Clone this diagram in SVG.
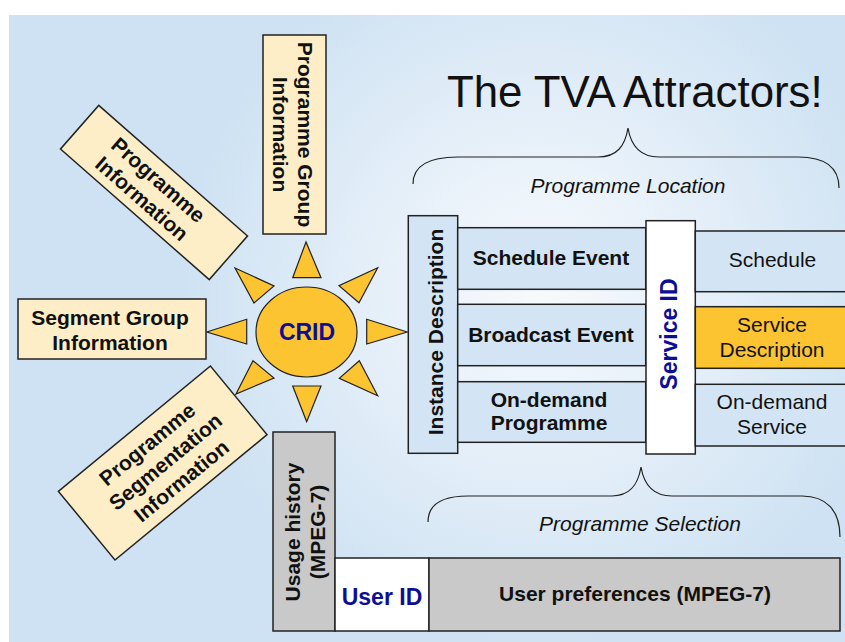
<svg xmlns="http://www.w3.org/2000/svg" width="845" height="642" viewBox="0 0 845 642">
<defs>
<radialGradient id="bg" gradientUnits="userSpaceOnUse" cx="540" cy="290" r="360">
<stop offset="0" stop-color="#f7fafd"/>
<stop offset="0.35" stop-color="#eaf2fa"/>
<stop offset="1" stop-color="#cee2f3"/>
</radialGradient>
<style>
.box{stroke:#222;stroke-width:1.5}
.cream{fill:#fdeec8}
.blue{fill:#d3e5f4}
.gray{fill:#c9c9c9}
.white{fill:#ffffff}
.orange{fill:#fdc431;stroke:#222;stroke-width:1.2}
.b{font-family:"Liberation Sans",Arial,sans-serif;font-weight:bold;font-size:21px;fill:#111;text-anchor:middle}
.r{font-family:"Liberation Sans",Arial,sans-serif;font-size:21px;fill:#111;text-anchor:middle}
.it{font-family:"Liberation Sans",Arial,sans-serif;font-style:italic;font-size:21px;fill:#111;text-anchor:middle}
.id{font-family:"Liberation Sans",Arial,sans-serif;font-weight:bold;font-size:23px;fill:#0d0d96;text-anchor:middle}
.brace{fill:none;stroke:#222;stroke-width:1.2}
</style>
</defs>
<rect x="0" y="0" width="845" height="642" fill="#ffffff"/>
<rect x="9" y="15" width="836" height="627" fill="url(#bg)"/>

<text x="447" y="107" font-family="Liberation Sans, Arial, sans-serif" font-size="43.8" fill="#111">The TVA Attractors!</text>

<g id="connectors">
<path class="brace" d="M413,184 C413,166 428,157 458,157 L598,157 C617,157 625,146 628,128 C631,146 640,157 659,157 L798,157 C826,157 839,168 839,188"/>
<path class="brace" d="M428,522 C428,505 440,496 468,496 L612,496 C630,496 638,485 641,467 C644,485 653,496 672,496 L802,496 C826,496 840,510 840,537"/>
</g>
<text class="it" x="628" y="193">Programme Location</text>
<text class="it" x="640" y="531">Programme Selection</text>

<g id="crid">
<polygon class="orange" points="306,242 292.7,277.7 321,277.7"/>
<polygon class="orange" points="235,268 274,286 254,303"/>
<polygon class="orange" points="377.7,267.7 339,285.7 359,302.7"/>
<polygon class="orange" points="206.7,332 246.7,319.3 246.7,344"/>
<polygon class="orange" points="407.3,332 366.7,319.3 366.7,344"/>
<polygon class="orange" points="236,394 253,360.7 274,378"/>
<polygon class="orange" points="377.7,395.7 359.3,360.7 339.3,378.3"/>
<polygon class="orange" points="306.7,421.7 292.7,386 321,386"/>
<ellipse class="orange" cx="306.5" cy="332" rx="50.5" ry="45"/>
<text class="id" x="307" y="340">CRID</text>
</g>

<g id="programme-group-information">
<rect class="box cream" x="263" y="35" width="63" height="199"/>
<text class="b" transform="translate(297.5,134.5) rotate(90)">Programme Group</text>
<text class="b" transform="translate(272.5,134.5) rotate(90)">Information</text>
</g>

<g id="programme-information" transform="translate(154,192.5) rotate(41.3)">
<rect class="box cream" x="-99" y="-29" width="198" height="58"/>
<text class="b" x="-5" y="-5">Programme</text>
<text class="b" x="-5" y="20">Information</text>
</g>

<g id="segment-group-information">
<rect class="box cream" x="18" y="299" width="188" height="60"/>
<text class="b" x="110" y="325">Segment Group</text>
<text class="b" x="110" y="350">Information</text>
</g>

<g id="programme-segmentation-information" transform="translate(162.7,463) rotate(-39.5)">
<rect class="box cream" x="-98.5" y="-44.5" width="197" height="89"/>
<text class="b" x="0" y="-17">Programme</text>
<text class="b" x="3" y="8">Segmentation</text>
<text class="b" x="3" y="33">Information</text>
</g>

<g id="instance-description">
<rect class="box blue" x="408.3" y="215.7" width="49.4" height="237.6"/>
<text class="b" transform="translate(443,332) rotate(-90)">Instance Description</text>
</g>

<g id="schedule-event">
<rect class="box blue" x="457.7" y="227.7" width="188" height="61.6"/>
<text class="b" x="551" y="265">Schedule Event</text>
</g>
<g id="broadcast-event">
<rect class="box blue" x="457.7" y="304.3" width="188" height="61.4"/>
<text class="b" x="551" y="342">Broadcast Event</text>
</g>
<g id="on-demand-programme">
<rect class="box blue" x="457.7" y="381.7" width="188" height="60.6"/>
<text class="b" x="549" y="407">On-demand</text>
<text class="b" x="549" y="430">Programme</text>
</g>

<g id="service-id">
<rect class="box white" x="646" y="220.7" width="49.3" height="233.3"/>
<text class="id" transform="translate(676.5,334) rotate(-90)">Service ID</text>
</g>

<g id="schedule">
<rect class="box blue" x="695.3" y="231" width="152" height="60.7"/>
<text class="r" x="772.5" y="266.5">Schedule</text>
</g>
<g id="service-description">
<rect class="box" fill="#fdc431" x="695.3" y="306.7" width="152" height="61.6"/>
<text class="r" x="772" y="332">Service</text>
<text class="r" x="772" y="357">Description</text>
</g>
<g id="on-demand-service">
<rect class="box blue" x="695.3" y="384.3" width="152" height="61.7"/>
<text class="r" x="772" y="409">On-demand</text>
<text class="r" x="772" y="434">Service</text>
</g>

<g id="usage-history">
<rect class="box gray" x="273" y="432" width="62" height="199"/>
<text class="b" transform="translate(300,532) rotate(-90)">Usage history</text>
<text class="b" transform="translate(325,532) rotate(-90)">(MPEG-7)</text>
</g>
<g id="user-id">
<rect class="box white" x="335" y="558" width="94" height="73"/>
<text class="id" x="382" y="605">User ID</text>
</g>
<g id="user-preferences">
<rect class="box gray" x="429" y="558" width="411" height="73"/>
<text class="b" x="635" y="601">User preferences (MPEG-7)</text>
</g>
</svg>
